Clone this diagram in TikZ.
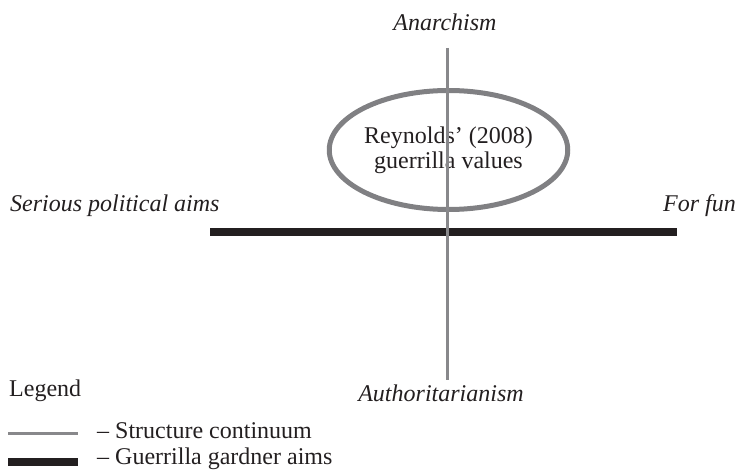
\documentclass[tikz,border=0pt]{standalone}
\usepackage{fontspec}
\setmainfont{Liberation Serif}
\usetikzlibrary{shapes,calc}
\definecolor{axisgray}{RGB}{136,136,139}
\definecolor{ringgray}{RGB}{128,128,131}
\definecolor{inkblack}{RGB}{35,31,32}

\begin{document}
\begin{tikzpicture}[x=1pt,y=-1pt,
    every node/.style={font=\fontsize{24}{27}\selectfont,text=inkblack,inner sep=0pt},
    pole/.style={font=\fontsize{24}{27}\selectfont\itshape},
    axisline/.style={draw=axisgray,line width=3pt},
    aimsbar/.style={draw=inkblack,line width=8pt},
    ring/.style={draw=ringgray,line width=5pt,ellipse,minimum width=194pt,minimum height=119pt,align=center}]
  \useasboundingbox (0,0) rectangle (738,470);
  % the two continua
  \coordinate (H0) at (210,232.5);
  \coordinate (H1) at (677,232.5);
  \coordinate (V0) at (447.5,48);
  \coordinate (V1) at (447.5,380);
  \path[aimsbar] (H0) edge (H1);
  \node[ring] (R0) at (448.5,150) {\raisebox{-2.4pt}{\shortstack{Reynolds' (2008)\\[-0.2pt]guerrilla values}}};
  \path[axisline] (V0) edge (V1);
  % ends of the continua
  \node[pole,anchor=base] (N0) at (445,31) {Anarchism};
  \node[pole,anchor=base] (S0) at (441,401) {Authoritarianism};
  \node[pole,anchor=base west] (W0) at (10,212) {Serious political aims};
  \node[pole,anchor=base east] (E0) at (736,212) {For fun};
  % legend
  \node[anchor=base west] (L0) at (9,396) {Legend};
  \coordinate (L1a) at (8,433);
  \coordinate (L1b) at (78,433);
  \coordinate (L2a) at (8,462);
  \coordinate (L2b) at (78,462);
  \path[axisline] (L1a) edge (L1b);
  \path[aimsbar] (L2a) edge (L2b);
  \node[anchor=base west] (L1) at (97,438) {-- Structure continuum};
  \node[anchor=base west] (L2) at (97,464.5) {-- Guerrilla gardner aims};
\end{tikzpicture}
\end{document}
